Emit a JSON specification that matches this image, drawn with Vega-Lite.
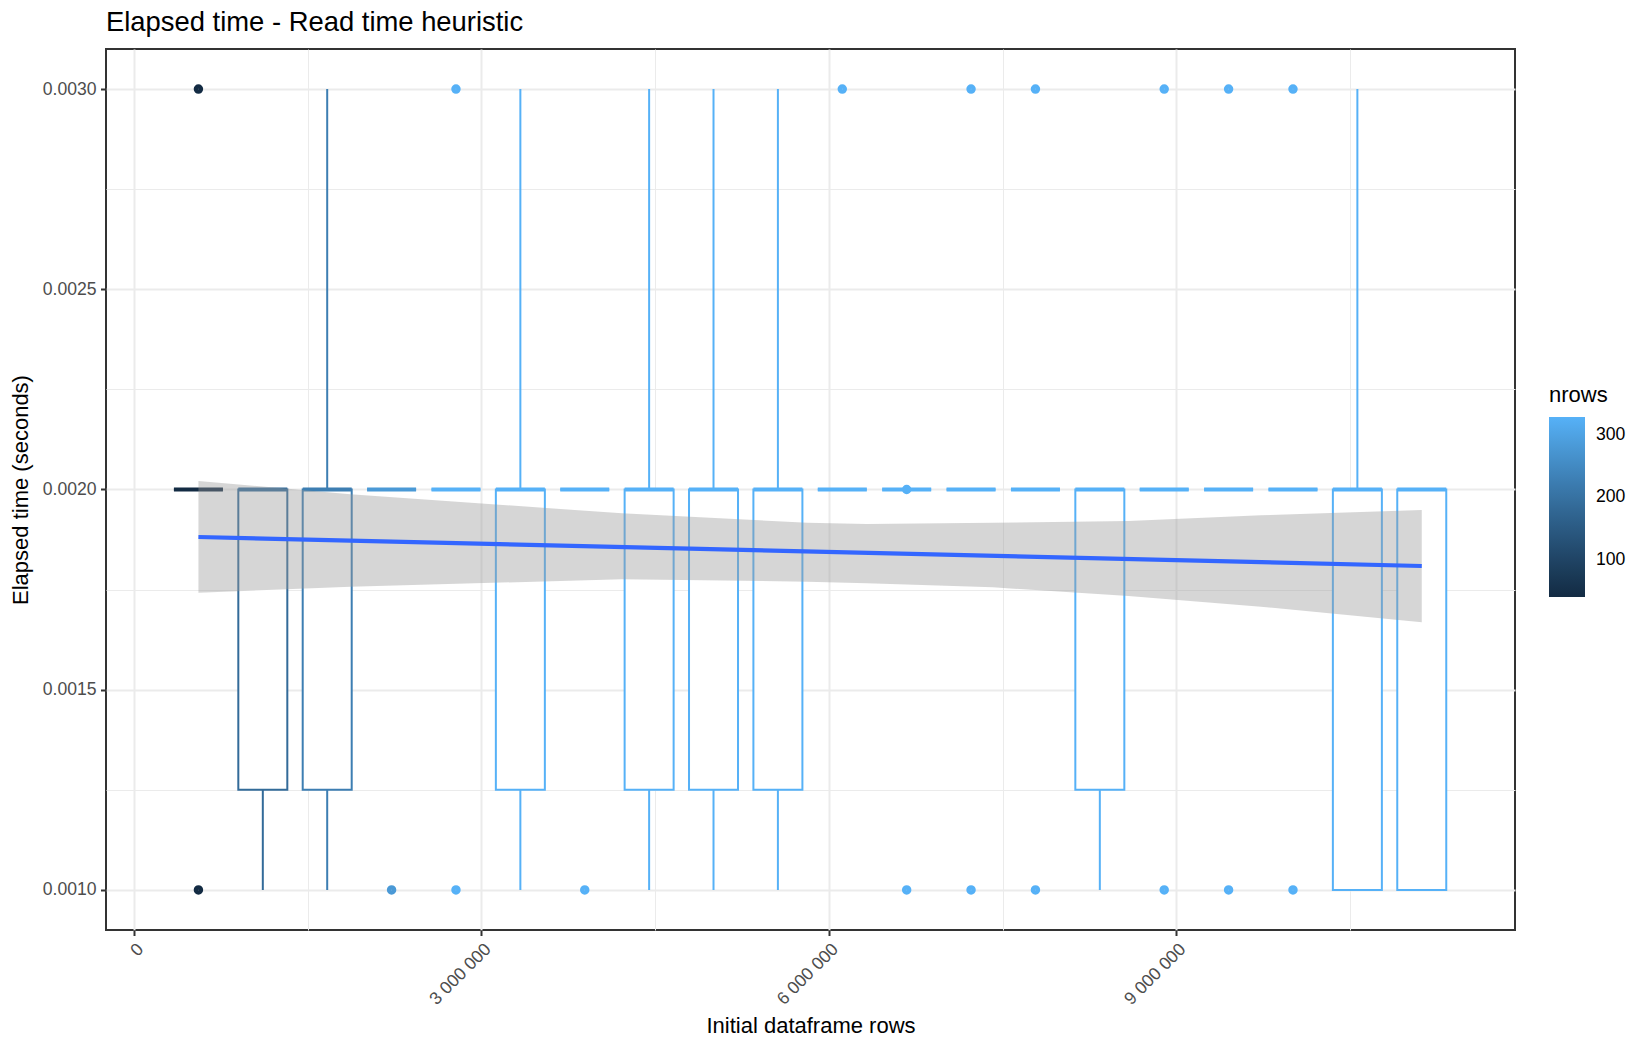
{
  "$schema": "https://vega.github.io/schema/vega-lite/v6.json",
  "autosize": {"type": "none"},
  "width": 1409,
  "height": 881,
  "padding": {"left": 106, "top": 49, "right": 135, "bottom": 120},
  "background": "white",
  "title": {
    "text": "Elapsed time - Read time heuristic",
    "orient": "top",
    "anchor": "start",
    "frame": "group",
    "font": "Liberation Sans",
    "fontSize": 27.4,
    "fontWeight": "normal",
    "color": "black",
    "baseline": "alphabetic",
    "offset": 17,
    "dy": 26
  },
  "config": {
    "font": "Liberation Sans",
    "view": {"stroke": "#333333", "strokeWidth": 2},
    "axis": {
      "domain": false,
      "gridColor": "#EBEBEB",
      "tickColor": "#333333",
      "tickWidth": 2,
      "tickSize": 5.5,
      "labelColor": "#4D4D4D",
      "labelFont": "Liberation Sans",
      "labelFontSize": 17.6,
      "labelPadding": 4.4,
      "titleFont": "Liberation Sans",
      "titleFontSize": 22,
      "titleFontWeight": "normal",
      "titleColor": "black",
      "labelOverlap": false,
      "labelFlush": false
    }
  },
  "datasets": {
    "boxes": [
      {"x": 556000, "nrows": 40, "lo": 0.002, "q1": 0.002, "med": 0.002, "q3": 0.002, "hi": 0.002},
      {"x": 1112000, "nrows": 185, "lo": 0.001, "q1": 0.00125, "med": 0.002, "q3": 0.002, "hi": 0.002},
      {"x": 1668000, "nrows": 225, "lo": 0.001, "q1": 0.00125, "med": 0.002, "q3": 0.002, "hi": 0.003},
      {"x": 2224000, "nrows": 280, "lo": 0.002, "q1": 0.002, "med": 0.002, "q3": 0.002, "hi": 0.002},
      {"x": 2780000, "nrows": 328, "lo": 0.002, "q1": 0.002, "med": 0.002, "q3": 0.002, "hi": 0.002},
      {"x": 3336000, "nrows": 328, "lo": 0.001, "q1": 0.00125, "med": 0.002, "q3": 0.002, "hi": 0.003},
      {"x": 3892000, "nrows": 328, "lo": 0.002, "q1": 0.002, "med": 0.002, "q3": 0.002, "hi": 0.002},
      {"x": 4448000, "nrows": 328, "lo": 0.001, "q1": 0.00125, "med": 0.002, "q3": 0.002, "hi": 0.003},
      {"x": 5004000, "nrows": 328, "lo": 0.001, "q1": 0.00125, "med": 0.002, "q3": 0.002, "hi": 0.003},
      {"x": 5560000, "nrows": 328, "lo": 0.001, "q1": 0.00125, "med": 0.002, "q3": 0.002, "hi": 0.003},
      {"x": 6116000, "nrows": 328, "lo": 0.002, "q1": 0.002, "med": 0.002, "q3": 0.002, "hi": 0.002},
      {"x": 6672000, "nrows": 328, "lo": 0.002, "q1": 0.002, "med": 0.002, "q3": 0.002, "hi": 0.002},
      {"x": 7228000, "nrows": 328, "lo": 0.002, "q1": 0.002, "med": 0.002, "q3": 0.002, "hi": 0.002},
      {"x": 7784000, "nrows": 328, "lo": 0.002, "q1": 0.002, "med": 0.002, "q3": 0.002, "hi": 0.002},
      {"x": 8340000, "nrows": 328, "lo": 0.001, "q1": 0.00125, "med": 0.002, "q3": 0.002, "hi": 0.002},
      {"x": 8896000, "nrows": 328, "lo": 0.002, "q1": 0.002, "med": 0.002, "q3": 0.002, "hi": 0.002},
      {"x": 9452000, "nrows": 328, "lo": 0.002, "q1": 0.002, "med": 0.002, "q3": 0.002, "hi": 0.002},
      {"x": 10008000, "nrows": 328, "lo": 0.002, "q1": 0.002, "med": 0.002, "q3": 0.002, "hi": 0.002},
      {"x": 10564000, "nrows": 328, "lo": 0.001, "q1": 0.001, "med": 0.002, "q3": 0.002, "hi": 0.003},
      {"x": 11120000, "nrows": 328, "lo": 0.001, "q1": 0.001, "med": 0.002, "q3": 0.002, "hi": 0.002}
    ],
    "outliers": [
      {"x": 556000, "nrows": 40, "y": 0.003},
      {"x": 556000, "nrows": 40, "y": 0.001},
      {"x": 2224000, "nrows": 280, "y": 0.001},
      {"x": 2780000, "nrows": 328, "y": 0.003},
      {"x": 2780000, "nrows": 328, "y": 0.001},
      {"x": 3892000, "nrows": 328, "y": 0.001},
      {"x": 6116000, "nrows": 328, "y": 0.003},
      {"x": 6672000, "nrows": 328, "y": 0.002},
      {"x": 6672000, "nrows": 328, "y": 0.001},
      {"x": 7228000, "nrows": 328, "y": 0.003},
      {"x": 7228000, "nrows": 328, "y": 0.001},
      {"x": 7784000, "nrows": 328, "y": 0.003},
      {"x": 7784000, "nrows": 328, "y": 0.001},
      {"x": 8896000, "nrows": 328, "y": 0.003},
      {"x": 8896000, "nrows": 328, "y": 0.001},
      {"x": 9452000, "nrows": 328, "y": 0.003},
      {"x": 9452000, "nrows": 328, "y": 0.001},
      {"x": 10008000, "nrows": 328, "y": 0.003},
      {"x": 10008000, "nrows": 328, "y": 0.001}
    ],
    "band": [
      {"x": 556000, "lower": 0.0017423, "upper": 0.0020212},
      {"x": 1868000, "lower": 0.0017573, "upper": 0.0019880},
      {"x": 4212000, "lower": 0.0017758, "upper": 0.0019405},
      {"x": 5814000, "lower": 0.0017698, "upper": 0.0019171},
      {"x": 6329000, "lower": 0.0017658, "upper": 0.0019139},
      {"x": 7415000, "lower": 0.0017558, "upper": 0.0019171},
      {"x": 8588000, "lower": 0.0017341, "upper": 0.0019213},
      {"x": 9731000, "lower": 0.0017074, "upper": 0.0019356},
      {"x": 11120000, "lower": 0.0016684, "upper": 0.0019488}
    ],
    "fit": [
      {"x": 556000, "y": 0.0018814},
      {"x": 11120000, "y": 0.0018090}
    ]
  },
  "encoding": {
    "x": {
      "field": "x",
      "type": "quantitative",
      "title": "Initial dataframe rows",
      "scale": {"domain": [-199000, 11882000], "nice": false, "zero": false},
      "axis": {
        "values": [0, 1500000, 3000000, 4500000, 6000000, 7500000, 9000000, 10500000],
        "labelExpr": "datum.value % 3000000 == 0 ? replace(format(datum.value, ','), regexp(',', 'g'), ' ') : ''",
        "gridWidth": {"condition": {"test": "datum.value % 3000000 == 0", "value": 2}, "value": 1},
        "tickOpacity": {"condition": {"test": "datum.value % 3000000 == 0", "value": 1}, "value": 0},
        "labelAngle": -45,
        "labelAlign": "right",
        "labelBaseline": "top",
        "titleX": 704.5,
        "titleY": 102,
        "titleAlign": "center",
        "titleBaseline": "alphabetic"
      }
    }
  },
  "layer": [
    {
      "data": {"name": "boxes"},
      "mark": {"type": "rule", "strokeWidth": 2},
      "encoding": {
        "y": {
          "field": "lo", "type": "quantitative", "title": "Elapsed time (seconds)",
          "scale": {"domain": [0.0009, 0.0031], "nice": false, "zero": false},
          "axis": {
            "values": [0.001, 0.00125, 0.0015, 0.00175, 0.002, 0.00225, 0.0025, 0.00275, 0.003],
            "labelExpr": "abs(datum.value * 2000 - round(datum.value * 2000)) < 0.01 ? format(datum.value, '.4f') : ''",
            "gridWidth": {"condition": {"test": "abs(datum.value * 2000 - round(datum.value * 2000)) < 0.01", "value": 2}, "value": 1},
            "tickOpacity": {"condition": {"test": "abs(datum.value * 2000 - round(datum.value * 2000)) < 0.01", "value": 1}, "value": 0},
            "labelAlign": "right",
            "labelBaseline": "middle",
            "titleAngle": -90,
            "titleX": -78.6,
            "titleY": 440.5,
            "titleAlign": "center",
            "titleBaseline": "alphabetic"
          }
        },
        "y2": {"field": "hi"},
        "color": {
          "field": "nrows", "type": "quantitative",
          "scale": {"domain": [40, 328], "range": ["#132B43", "#56B1F7"], "interpolate": "lab"},
          "legend": {
            "type": "gradient",
            "title": "nrows", "orient": "none", "legendX": 1443, "legendY": 336,
            "direction": "vertical", "gradientLength": 180, "gradientThickness": 36,
            "gradientStrokeWidth": 0, "tickCount": 3,
            "labelFont": "Liberation Sans", "labelFontSize": 17.6, "labelColor": "black", "labelOffset": 11,
            "labelOverlap": false,
            "titleFont": "Liberation Sans", "titleFontSize": 22, "titleFontWeight": "normal", "titleColor": "black",
            "titlePadding": 10
          }
        }
      }
    },
    {
      "data": {"name": "boxes"},
      "mark": {"type": "bar", "size": 49, "fill": "white"},
      "encoding": {
        "y": {"field": "q1", "type": "quantitative", "title": "Elapsed time (seconds)", "scale": {"domain": [0.0009, 0.0031], "nice": false, "zero": false}},
        "y2": {"field": "q3"}
      }
    },
    {
      "data": {"name": "boxes"},
      "mark": {"type": "bar", "size": 49, "filled": false, "strokeWidth": 2},
      "encoding": {
        "y": {"field": "q1", "type": "quantitative", "title": "Elapsed time (seconds)", "scale": {"domain": [0.0009, 0.0031], "nice": false, "zero": false}},
        "y2": {"field": "q3"},
        "color": {"field": "nrows", "type": "quantitative", "scale": {"domain": [40, 328], "range": ["#132B43", "#56B1F7"], "interpolate": "lab"}}
      }
    },
    {
      "data": {"name": "boxes"},
      "mark": {"type": "bar", "size": 49, "filled": false, "strokeWidth": 4.2},
      "encoding": {
        "y": {"field": "med", "type": "quantitative", "title": "Elapsed time (seconds)", "scale": {"domain": [0.0009, 0.0031], "nice": false, "zero": false}},
        "y2": {"field": "med"},
        "color": {"field": "nrows", "type": "quantitative", "scale": {"domain": [40, 328], "range": ["#132B43", "#56B1F7"], "interpolate": "lab"}}
      }
    },
    {
      "data": {"name": "outliers"},
      "mark": {"type": "circle", "filled": false, "size": 20, "strokeWidth": 5, "opacity": 1},
      "encoding": {
        "y": {"field": "y", "type": "quantitative", "title": "Elapsed time (seconds)", "scale": {"domain": [0.0009, 0.0031], "nice": false, "zero": false}},
        "color": {"field": "nrows", "type": "quantitative", "scale": {"domain": [40, 328], "range": ["#132B43", "#56B1F7"], "interpolate": "lab"}}
      }
    },
    {
      "data": {"name": "band"},
      "mark": {"type": "area", "orient": "vertical", "color": "#999999", "opacity": 0.4},
      "encoding": {
        "y": {"field": "lower", "type": "quantitative", "title": "Elapsed time (seconds)", "scale": {"domain": [0.0009, 0.0031], "nice": false, "zero": false}},
        "y2": {"field": "upper"}
      }
    },
    {
      "data": {"name": "fit"},
      "mark": {"type": "line", "color": "#3366FF", "strokeWidth": 4.2},
      "encoding": {
        "y": {"field": "y", "type": "quantitative", "title": "Elapsed time (seconds)", "scale": {"domain": [0.0009, 0.0031], "nice": false, "zero": false}}
      }
    }
  ]
}
